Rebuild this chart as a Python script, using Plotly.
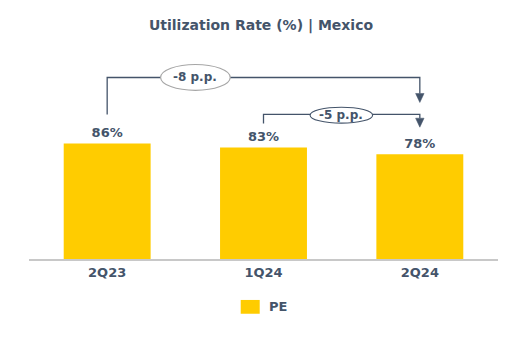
import plotly.graph_objects as go

categories = ["2Q23", "1Q24", "2Q24"]
values = [86, 83, 78]
series_name = "PE"
title_text = "Utilization Rate (%) | Mexico"

BAR = "#FFCC00"
INK = "#44546A"
FONT = "DejaVu Sans"

xs = list(range(len(categories)))

fig = go.Figure()
fig.add_trace(go.Bar(
    x=xs, y=values, name=series_name, width=0.556,
    marker=dict(color=BAR, line=dict(width=0)),
    text=[f"<b>{v}%</b>" for v in values], textposition="outside",
    textfont=dict(family=FONT, size=13, color=INK),
    cliponaxis=False, showlegend=False,
))

shapes = []
line = dict(color=INK, width=1.3)

def bracket(i0, i1, y_start, y_top, y_tip):
    shapes.append(dict(type="path", xref="x", yref="y",
                       path=f"M {i0},{y_start} L {i0},{y_top} L {i1},{y_top} L {i1},{y_tip + 6.7}",
                       line=line))
    dx = 0.027
    shapes.append(dict(type="path", xref="x", yref="y",
                       path=f"M {i1-dx},{y_tip + 6.7} L {i1+dx},{y_tip + 6.7} L {i1},{y_tip} Z",
                       fillcolor=INK, line=dict(color=INK, width=0.5)))

def ellipse(x0, x1, y0, y1, border, label):
    shapes.append(dict(type="circle", xref="x", yref="y", x0=x0, x1=x1, y0=y0, y1=y1,
                       fillcolor="white", line=dict(color=border, width=1.1)))
    fig.add_annotation(x=(x0 + x1) / 2, y=(y0 + y1) / 2, xref="x", yref="y",
                       text=f"<b>{label}</b>", showarrow=False,
                       font=dict(family=FONT, size=12, color=INK))

d1 = values[2] - values[0]
d2 = values[2] - values[1]

bracket(0, 2, values[0] + 21.6, 135.1, values[2] + 38.5)
bracket(1, 2, values[1] + 17.9, 107.6, values[2] + 20.1)
ellipse(0.342, 0.787, 125.5, 144.8, "#A6A6A6", f"{d1} p.p.")
ellipse(1.298, 1.698, 101.1, 113.0, INK, f"{d2} p.p.")

# legend (drawn manually to match the reference swatch size)
shapes.append(dict(type="rect", xref="paper", yref="paper", x0=0.4514, x1=0.4919,
                   y0=-0.25, y1=-0.187, fillcolor=BAR, line=dict(width=0)))
fig.add_annotation(x=0.5074, y=-0.219, xref="paper", yref="paper", xanchor="left",
                   yanchor="middle", text=f"<b>{series_name}</b>", showarrow=False,
                   font=dict(family=FONT, size=13, color=INK))

fig.update_layout(
    width=522, height=348,
    margin=dict(l=29, r=24, t=40, b=89),
    paper_bgcolor="white", plot_bgcolor="white",
    title=dict(text=f"<b>{title_text}</b>", x=0.5, xanchor="center", y=0.928, yanchor="middle",
               font=dict(family=FONT, size=14, color=INK)),
    font=dict(family=FONT, color=INK),
    xaxis=dict(range=[-0.5, 2.5], tickvals=xs, ticktext=[f"<b>{c}</b>" for c in categories],
               showgrid=False, zeroline=False, showline=True, linecolor="#C8C8C8", linewidth=2,
               ticks="", tickfont=dict(family=FONT, size=13, color=INK), fixedrange=True),
    yaxis=dict(range=[0, 163], visible=False, showgrid=False, zeroline=False, fixedrange=True),
    shapes=shapes,
    showlegend=False,
)

fig.write_html("out.html")
